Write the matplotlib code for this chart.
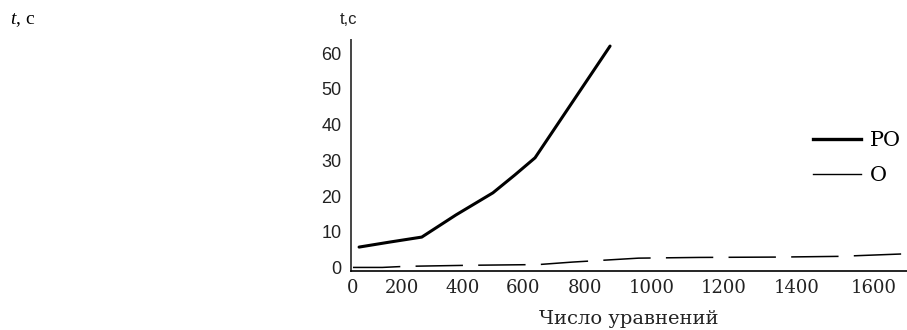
import numpy as np
import matplotlib
matplotlib.use("Agg")
import matplotlib.pyplot as plt
from matplotlib.lines import Line2D

# Число уравнений / время решения, c
n_po = [25, 150, 265, 377, 500, 573, 639, 875]
t_po = [5.7, 7.1, 8.5, 14.7, 20.9, 25.9, 30.7, 62.0]

n_o = [0, 120, 210, 420, 650, 760, 870, 960, 1130, 1350, 1510, 1680]
t_o = [0, 0, 0.3, 0.6, 0.8, 1.5, 2.1, 2.6, 2.8, 2.9, 3.1, 3.8]

x_ticks = [0, 200, 400, 600, 800, 1000, 1200, 1400, 1600]
y_ticks = [0, 10, 20, 30, 40, 50, 60]
series_names = ["PO", "O"]

# неравномерная шкала по оси X (подписи на оригинале стоят неравномерно)
scale_vals = [-200] + x_ticks + [1800]
scale_px = [304, 353, 402, 463, 523, 585, 652, 724, 797, 874, 951]

def fwd(x):
    return np.interp(x, scale_vals, scale_px)

def inv(p):
    return np.interp(p, scale_px, scale_vals)

plt.rcParams['mathtext.fontset'] = 'custom'
plt.rcParams['mathtext.it'] = 'Liberation Serif:italic'
plt.rcParams['mathtext.rm'] = 'Liberation Serif'

W, H = 907, 330
fig = plt.figure(figsize=(W / 100, H / 100), dpi=100)
ax = fig.add_axes([351 / W, 1 - 271 / H, (W - 351) / W, (271 - 40) / H])
ax.set_xscale('function', functions=(fwd, inv))

ax.plot(n_po, t_po, color='black', lw=2.2, solid_capstyle='round')
ax.plot(n_o, t_o, color='black', lw=1.1, linestyle=(0, (31, 10)))

ax.set_xlim(-8, 1686)
ax.set_ylim(-1.0, 63.7)
ax.set_xticks(x_ticks)
ax.set_yticks(y_ticks)
ax.set_xticklabels([str(v) for v in x_ticks], family='DejaVu Serif', fontsize=13)
ax.set_yticklabels([str(v) for v in y_ticks], family='Liberation Sans', fontsize=13)
ax.tick_params(length=0, colors='#222')
ax.tick_params(axis='x', pad=6)
ax.tick_params(axis='y', pad=7)

for s in ['top', 'right']:
    ax.spines[s].set_visible(False)
ax.spines['left'].set_color('#444')
ax.spines['left'].set_linewidth(1.4)
ax.spines['bottom'].set_color('black')
ax.spines['bottom'].set_linewidth(1.2)

ax.set_xlabel("Число уравнений", family='DejaVu Serif', fontsize=14, labelpad=9,
              color='#222')

fig.text(348 / W, 1 - 20 / H, "t,c", family='Liberation Sans', fontsize=12,
         ha='center', va='center', color='#222')
fig.text(10 / W, 1 - 20 / H, r"$t$, c", family='Liberation Serif', fontsize=14,
         ha='left', va='center')

handles = [Line2D([], [], color='black', lw=2.4),
           Line2D([], [], color='black', lw=1.0)]
ax.legend(handles, series_names, loc='center left',
          bbox_to_anchor=(813 / W, 1 - 158 / H), bbox_transform=fig.transFigure,
          frameon=False, borderpad=0, borderaxespad=0, handlelength=2.3,
          handletextpad=0.45, labelspacing=0.78,
          prop={'family': 'DejaVu Serif', 'size': 15})

fig.savefig("out.png", dpi=100)
